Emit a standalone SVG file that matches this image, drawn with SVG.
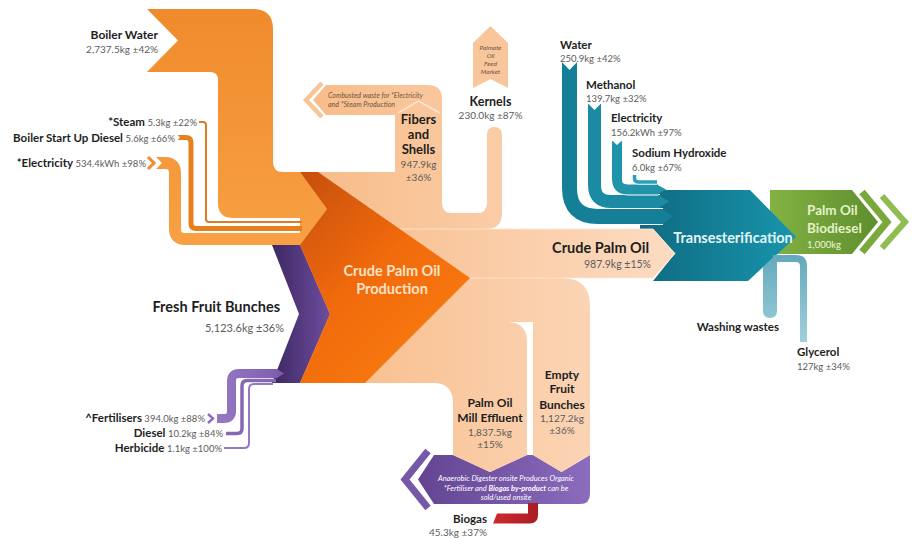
<svg xmlns="http://www.w3.org/2000/svg" width="912" height="538" viewBox="0 0 912 538">
<defs>
<linearGradient id="gBoil" gradientUnits="userSpaceOnUse" x1="0" y1="0" x2="0" y2="250"><stop offset="0" stop-color="#ef8a2b"/><stop offset="1" stop-color="#f8a144"/></linearGradient>
<linearGradient id="gChev" gradientUnits="userSpaceOnUse" x1="300" y1="172" x2="450" y2="330"><stop offset="0" stop-color="#c64f0d"/><stop offset="0.55" stop-color="#f16a0c"/><stop offset="1" stop-color="#f7790f"/></linearGradient>
<linearGradient id="gPeach" gradientUnits="userSpaceOnUse" x1="300" y1="0" x2="680" y2="0"><stop offset="0" stop-color="#f8bb87"/><stop offset="1" stop-color="#fcdcc3"/></linearGradient>
<linearGradient id="gFFB" gradientUnits="userSpaceOnUse" x1="272" y1="0" x2="330" y2="0"><stop offset="0" stop-color="#3d2763"/><stop offset="1" stop-color="#6d4d9e"/></linearGradient>
<linearGradient id="gFert" gradientUnits="userSpaceOnUse" x1="210" y1="0" x2="285" y2="0"><stop offset="0" stop-color="#9a7bc6"/><stop offset="1" stop-color="#7b5cab"/></linearGradient>
<linearGradient id="gAn" gradientUnits="userSpaceOnUse" x1="400" y1="0" x2="590" y2="0"><stop offset="0" stop-color="#5f408d"/><stop offset="1" stop-color="#8b6cbd"/></linearGradient>
<linearGradient id="gTeal" gradientUnits="userSpaceOnUse" x1="640" y1="0" x2="800" y2="0"><stop offset="0" stop-color="#0f6a80"/><stop offset="1" stop-color="#1896ae"/></linearGradient>
<linearGradient id="gGreen" gradientUnits="userSpaceOnUse" x1="760" y1="0" x2="880" y2="0"><stop offset="0" stop-color="#86b545"/><stop offset="1" stop-color="#5e8e2d"/></linearGradient>
<linearGradient id="gLT" gradientUnits="userSpaceOnUse" x1="0" y1="250" x2="0" y2="345"><stop offset="0" stop-color="#5fa7ba"/><stop offset="1" stop-color="#a3d1dc"/></linearGradient>
<linearGradient id="gRed" gradientUnits="userSpaceOnUse" x1="490" y1="0" x2="540" y2="0"><stop offset="0" stop-color="#d12a30"/><stop offset="1" stop-color="#a81c22"/></linearGradient>
<style>
text{font-family:Lato,"Liberation Sans",sans-serif}
.lb{font-weight:700;fill:#1e1e1e;font-size:12px}
.v{font-weight:400;fill:#5c5c5c;font-size:10px}
.sl{font-weight:700;fill:#1e1e1e;font-size:11.5px}
.sv{font-weight:400;fill:#5c5c5c;font-size:9.5px}
.end{text-anchor:end}
.mid{text-anchor:middle}
.it{font-style:italic;font-size:7px;fill:#6a5646}
.band{fill:none}
.casing{fill:none;stroke:#fff}
</style>
</defs>
<rect width="912" height="538" fill="#fff"/>

<g id="node-biodiesel">
<polygon points="770,190 852,190 878,222 852,254 770,254" fill="url(#gGreen)"/>
<polyline points="862,192 887,222 862,252" fill="none" stroke="#79a83b" stroke-width="7"/>
<polyline points="882,196 905,222 882,248" fill="none" stroke="#8fbd4f" stroke-width="6"/>
</g>

<g id="node-transesterification">
<polygon points="640,190 750,190 796,237 748,281 653,281 675,253.5 653,229 640,229" fill="url(#gTeal)"/>
</g>

<g id="node-anaerobic">
<polyline points="428,451 405,479.5 428,508" fill="none" stroke="#7658a8" stroke-width="7"/>
<path d="M434,455 H453 L490,472 L527,455 H533 L561.5,472 L590,455 V494 Q590,504 580,504 H434 L418,479.5 Z" fill="url(#gAn)"/>
<text class="mid" x="506" y="480.5" style="font-style:italic;font-size:7.5px;fill:#fff">Anaerobic Digester onsite Produces Organic</text>
<text class="mid" x="506" y="490.5" style="font-style:italic;font-size:7.5px;fill:#fff">*Fertiliser and <tspan font-weight="700">Biogas by-product</tspan> can be</text>
<text class="mid" x="506" y="500" style="font-style:italic;font-size:7.5px;fill:#fff">sold/used onsite</text>
</g>

<g id="connectors">
<!-- peach outputs -->
<path d="M300,229 V172 H395 V115 H326 L313,100 L326,85 H428 Q442,85 442,99 V203 Q442,213 452,213 H477 Q487,213 487,203 V134.5 Q487,127 494.5,127 Q502,127 502,134.5 V213 Q502,229 486,229 Z" fill="url(#gPeach)"/>
<polyline points="322,83 306,100 322,117" fill="none" stroke="#f8c597" stroke-width="4.5"/>
<polyline points="398,113 418.5,101 440,113" fill="none" stroke="#fde7d4" stroke-width="1.5"/>
<path d="M300,278 H562 Q590,278 590,306 V455 L561.5,472 L533,455 V322 H300 Z" fill="url(#gPeach)"/>
<path d="M300,322 H507 Q527,322 527,342 V455 L490,472 L453,455 V403 Q453,383 433,383 H300 Z" fill="url(#gPeach)"/>
<path d="M300,229 H653 L675,253.5 L653,278 H300 Z" fill="url(#gPeach)" stroke="#fde9d8" stroke-width="0.8"/>

<!-- orange inputs -->
<path d="M147,9 H253 Q273,9 273,29 V162 Q273,172 283,172 H300 L327,209 L300,245 V218 H233 Q218,218 218,203 V80 Q218,72 210,72 H147 L178,40.5 Z" fill="url(#gBoil)"/>
<path class="band" d="M199,122 H203 Q206,122 206,125 V219 Q206,222 209,222 H302" stroke="#e07b1f" stroke-width="2"/>
<path class="band" d="M178,137.5 H186 Q191,137.5 191,142.5 V223.5 Q191,228.5 196,228.5 H302" stroke="#e67f1c" stroke-width="5"/>
<path class="band" d="M156,163 H165 Q175,163 175,173 V229 Q175,239 185,239 H302" stroke="url(#gBoil)" stroke-width="12"/>
<polygon points="155.5,156.5 162,163 155.5,169.5" fill="#fff"/>
<polyline points="148,157 154,163 148,169" fill="none" stroke="#f08d2c" stroke-width="3"/>
<polygon points="177,134.5 180,137.5 177,140.5" fill="#fff"/>

<!-- FFB and purple inputs -->
<polygon points="272,245 300,245 330,314 300,383 272,383 299,314" fill="url(#gFFB)"/>
<path class="band" d="M217,418.5 H224 Q231.5,418.5 231.5,411 V381 Q231.5,373.5 239,373.5 H277" stroke="url(#gFert)" stroke-width="9"/>
<polygon points="277,369 284,373.5 277,378" fill="#7b5cab"/>
<polyline points="208,414 213,418.5 208,423" fill="none" stroke="#8e6fbf" stroke-width="2.5"/>
<path class="band" d="M226,433.5 H237 Q242,433.5 242,428.5 V386 Q242,380.5 247.5,380.5 H276" stroke="#8567b6" stroke-width="3.5"/>
<path class="band" d="M224,448 H244 Q249,448 249,443 V389 Q249,384 254,384 H273" stroke="#9479c2" stroke-width="2"/>

<!-- biogas -->
<path d="M528,503 H538 V515 Q538,523.5 529.5,523.5 H493 L497,513.5 H528 Z" fill="url(#gRed)"/>

<!-- teal inputs -->
<path class="casing" d="M569.5,62 V188 Q569.5,216.5 598,216.5 H663" stroke-width="17"/>
<path class="band" d="M569.5,62 V188 Q569.5,216.5 598,216.5 H663" stroke="#157f97" stroke-width="15"/>
<polygon points="662,209 673,216.5 662,224" fill="#157f97"/>
<polygon points="561,61 569.5,70 578,61" fill="#fff"/>
<path class="casing" d="M594.5,104 V185 Q594.5,201.5 611,201.5 H660" stroke-width="15"/>
<path class="band" d="M594.5,104 V185 Q594.5,201.5 611,201.5 H660" stroke="#1a8ba3" stroke-width="13"/>
<polygon points="659,195 669,201.5 659,208" fill="#1a8ba3"/>
<polygon points="587.5,103 594.5,110 601.5,103" fill="#fff"/>
<path class="casing" d="M617,141 V179 Q617,189.5 627.5,189.5 H658" stroke-width="12"/>
<path class="band" d="M617,141 V179 Q617,189.5 627.5,189.5 H658" stroke="#2094aa" stroke-width="10"/>
<polygon points="657,184.5 666,189.5 657,194.5" fill="#2094aa"/>
<polygon points="611.5,140 617,145 622.5,140" fill="#fff"/>
<path class="casing" d="M634.5,175 V178 Q634.5,182 638.5,182 H657" stroke-width="5"/>
<path class="band" d="M634.5,175 V178 Q634.5,182 638.5,182 H657" stroke="#2aa0b6" stroke-width="3.5"/>

<!-- teal outputs -->
<path d="M763,267 L777,254 V311 Q777,318 770,318 Q763,318 763,311 Z" fill="url(#gLT)"/>
<path class="band" d="M773,258.5 H796 Q803.5,258.5 803.5,266 V342" stroke="url(#gLT)" stroke-width="7"/>
</g>

<g id="node-cpo-production">
<polygon points="300,172 318,172 470,278 365,383 300,383 330,314 300,245 327,209" fill="url(#gChev)"/>
<text class="mid" x="392" y="276" style="font-weight:700;font-size:14.5px;fill:#fde2c6">Crude Palm Oil</text>
<text class="mid" x="392" y="294" style="font-weight:700;font-size:14.5px;fill:#fde2c6">Production</text>
</g>

<g id="node-boiler-water">
<text class="lb end" x="158" y="39">Boiler Water</text>
<text class="v end" x="158" y="53">2,737.5kg ±42%</text>
</g>
<g id="node-steam">
<text class="end" x="197" y="126"><tspan class="sl">*Steam</tspan><tspan class="sv"> 5.3kg ±22%</tspan></text>
</g>
<g id="node-boiler-diesel">
<text class="end" x="175" y="141.5"><tspan class="sl">Boiler Start Up Diesel</tspan><tspan class="sv"> 5.6kg ±66%</tspan></text>
</g>
<g id="node-electricity-mill">
<text class="end" x="146" y="167"><tspan class="sl">*Electricity</tspan><tspan class="sv"> 534.4kWh  ±98%</tspan></text>
</g>
<g id="node-ffb">
<text class="lb end" x="280" y="312" style="font-size:14.5px">Fresh Fruit Bunches</text>
<text class="v end" x="284" y="332" style="font-size:11px">5,123.6kg ±36%</text>
</g>
<g id="node-fertilisers">
<text class="end" x="205" y="422"><tspan class="sl">^Fertilisers</tspan><tspan class="sv"> 394.0kg ±88%</tspan></text>
</g>
<g id="node-diesel">
<text class="end" x="223" y="437"><tspan class="sl">Diesel</tspan><tspan class="sv"> 10.2kg ±84%</tspan></text>
</g>
<g id="node-herbicide">
<text class="end" x="222" y="451.5"><tspan class="sl">Herbicide</tspan><tspan class="sv"> 1.1kg ±100%</tspan></text>
</g>
<g id="node-fibers">
<text class="lb mid" x="418.5" y="124" style="font-size:13px">Fibers</text>
<text class="lb mid" x="418.5" y="139" style="font-size:13px">and</text>
<text class="lb mid" x="418.5" y="154" style="font-size:13px">Shells</text>
<text class="v mid" x="418.5" y="168">947.9kg</text>
<text class="v mid" x="418.5" y="181">±36%</text>
</g>
<g id="node-combustion">
<text class="it" x="328" y="97.5">Combusted waste for *Electricity</text>
<text class="it" x="328" y="106.5">and *Steam Production</text>
</g>
<g id="node-market">
<polygon points="473,43 490.5,26 508,43 508,88 490.5,79 473,88" fill="#f9c59a"/>
<text class="it mid" x="490.5" y="50" style="font-size:6.5px">Palmate</text>
<text class="it mid" x="490.5" y="58" style="font-size:6.5px">Oil</text>
<text class="it mid" x="490.5" y="66" style="font-size:6.5px">Feed</text>
<text class="it mid" x="490.5" y="74" style="font-size:6.5px">Market</text>
</g>
<g id="node-kernels">
<text class="lb mid" x="490.5" y="106" style="font-size:12.5px">Kernels</text>
<text class="v mid" x="490.5" y="119">230.0kg ±87%</text>
</g>
<g id="node-cpo">
<text class="lb end" x="649" y="253" style="font-size:14.5px">Crude Palm Oil</text>
<text class="v end" x="651" y="268" style="font-size:10.5px">987.9kg ±15%</text>
</g>
<g id="node-pome">
<text class="lb mid" x="490" y="407">Palm Oil</text>
<text class="lb mid" x="490" y="422">Mill Effluent</text>
<text class="v mid" x="490" y="435.5">1,837.5kg</text>
<text class="v mid" x="490" y="447.5">±15%</text>
</g>
<g id="node-efb">
<text class="lb mid" x="562" y="379">Empty</text>
<text class="lb mid" x="562" y="393">Fruit</text>
<text class="lb mid" x="562" y="409">Bunches</text>
<text class="v mid" x="562" y="421.5">1,127.2kg</text>
<text class="v mid" x="562" y="433.5">±36%</text>
</g>
<g id="node-biogas">
<text class="lb end" x="487" y="523" style="font-size:11.5px">Biogas</text>
<text class="v end" x="487" y="536">45.3kg ±37%</text>
</g>
<g id="node-water">
<text class="lb" x="560" y="49" style="font-size:11.5px">Water</text>
<text class="v" x="560" y="62" style="font-size:9.5px">250.9kg ±42%</text>
</g>
<g id="node-methanol">
<text class="lb" x="586" y="89" style="font-size:11.5px">Methanol</text>
<text class="v" x="586" y="102" style="font-size:9.5px">139.7kg ±32%</text>
</g>
<g id="node-electricity">
<text class="lb" x="611" y="122" style="font-size:11.5px">Electricity</text>
<text class="v" x="611" y="136" style="font-size:9.5px">156.2kWh ±97%</text>
</g>
<g id="node-naoh">
<text class="lb" x="632" y="157" style="font-size:11.5px">Sodium Hydroxide</text>
<text class="v" x="632" y="171" style="font-size:9.5px">6.0kg ±67%</text>
</g>
<g id="node-transesterification-label">
<text class="mid" x="733" y="243" style="font-weight:700;font-size:14.5px;fill:#e3f5f8">Transesterification</text>
</g>
<g id="node-biodiesel-label">
<text x="807" y="215" style="font-weight:700;font-size:13.5px;fill:#e4f2c8">Palm Oil</text>
<text x="807" y="233" style="font-weight:700;font-size:13.5px;fill:#e4f2c8">Biodiesel</text>
<text x="807" y="248" style="font-size:9.5px;fill:#eef6dc">1,000kg</text>
</g>
<g id="node-washing">
<text class="lb end" x="779" y="331" style="font-size:11.5px">Washing wastes</text>
</g>
<g id="node-glycerol">
<text class="lb" x="797" y="356" style="font-size:11.5px">Glycerol</text>
<text class="v" x="797" y="370" style="font-size:9.5px">127kg ±34%</text>
</g>
</svg>
